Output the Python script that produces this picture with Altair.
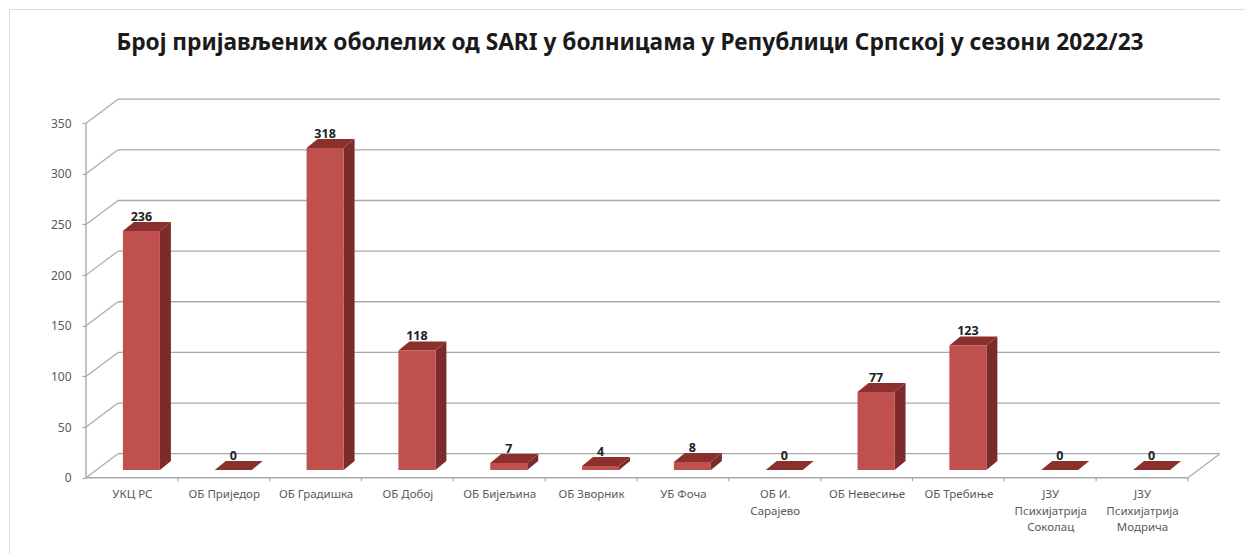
import json
import altair as alt
import pandas as pd

title = "Број пријављених оболелих од SARI у болницама у Републици Српској у сезони 2022/23"
categories = ["УКЦ РС", "ОБ Приједор", "ОБ Градишка", "ОБ Добој", "ОБ Бијељина", "ОБ Зворник",
              "УБ Фоча", "ОБ И.|Сарајево", "ОБ Невесиње", "ОБ Требиње",
              "ЈЗУ|Психијатрија|Соколац", "ЈЗУ|Психијатрија|Модрича"]
values = [236, 0, 318, 118, 7, 4, 8, 0, 77, 123, 0, 0]
y_ticks = [0, 50, 100, 150, 200, 250, 300, 350]

# frame and projection geometry (pixels on the page)
L, R, T, B = 9, 1245, 9, 554
X0, Y0 = 86, 477.7
SLOT = 91.83
PXV = 1.0129
n = len(categories)
WALL_DX, WALL_DY = 32 / SLOT, 24 / PXV
BAR_W, BAR_SHIFT = 37 / SLOT, 9.5 / SLOT
BAR_DX, BAR_DY = 11 / SLOT, 9 / PXV
BASE = 7.7 / PXV

GRID = "#a9a9a9"
TXT = "#5a5a5a"
FONT = "Noto Sans"

labels_js = json.dumps([c.split("|") for c in categories], ensure_ascii=False)

xs = alt.Scale(domain=[(L - X0) / SLOT, (R - X0) / SLOT], nice=False, zero=False)
ys = alt.Scale(domain=[(Y0 - B) / PXV, (Y0 - T) / PXV], nice=False, zero=False)
x_axis = alt.Axis(values=[i + 0.5 for i in range(n)], labelExpr=labels_js + "[floor(datum.value)]",
                  ticks=False, domain=False, grid=False, title=None, offset=-(B - Y0),
                  labelFont=FONT, labelFontSize=11.5, labelColor=TXT, labelPadding=11,
                  labelLineHeight=16.5, labelOverlap=False, labelBound=False, labelFlush=False,
                  labelAngle=0, labelBaseline="top")
y_axis = alt.Axis(values=y_ticks, format="d", tickSize=4, tickColor=GRID, tickWidth=1.2,
                  domain=False, grid=False, title=None, offset=-(X0 - L),
                  labelFont=FONT, labelFontSize=12, labelColor=TXT, labelPadding=11,
                  labelOverlap=False, labelBound=False, labelFlush=False)
X = alt.X("x:Q", scale=xs, axis=x_axis)
Y = alt.Y("y:Q", scale=ys, axis=y_axis)

# walls: back grid lines
grid = pd.DataFrame({"x": [WALL_DX] * len(y_ticks), "x2": [n + WALL_DX] * len(y_ticks),
                     "y": [v + WALL_DY for v in y_ticks]})
grid_l = alt.Chart(grid).mark_rule(color=GRID, strokeWidth=1.3).encode(X, alt.X2("x2:Q"), Y)

# side-wall diagonals plus the floor's right edge
diag_rows = []
for v in y_ticks:
    diag_rows += [{"k": v, "x": 0, "y": v}, {"k": v, "x": WALL_DX, "y": v + WALL_DY}]
diag_rows += [{"k": -1, "x": n, "y": 0}, {"k": -1, "x": n + WALL_DX, "y": WALL_DY}]
diag_l = alt.Chart(pd.DataFrame(diag_rows)).mark_line(color=GRID, strokeWidth=1.2).encode(
    X, Y, alt.Detail("k:N"))

# front axis lines and x ticks
front = pd.DataFrame({"x": [0], "x2": [n], "y": [0]})
front_l = alt.Chart(front).mark_rule(color=GRID, strokeWidth=1.4).encode(X, alt.X2("x2:Q"), Y)
vert = pd.DataFrame({"x": [0], "y": [0], "y2": [350]})
vert_l = alt.Chart(vert).mark_rule(color=GRID, strokeWidth=1.4).encode(X, Y, alt.Y2("y2:Q"))
xt = pd.DataFrame({"x": list(range(1, n + 1)), "y": [0] * n, "y2": [-3.5] * n})
xt_l = alt.Chart(xt).mark_rule(color=GRID, strokeWidth=1.2).encode(X, Y, alt.Y2("y2:Q"))

# bars
front_rows, side_rows, top_rows, label_rows = [], [], [], []
for i, v in enumerate(values):
    xl = i + 0.5 + BAR_SHIFT - BAR_W / 2
    xr = xl + BAR_W
    front_rows.append({"x": xl, "x2": xr, "y": BASE, "y2": BASE + v})
    side_rows += [{"i": i, "x": xr, "y": BASE, "y2": BASE + v},
                  {"i": i, "x": xr + BAR_DX, "y": BASE + BAR_DY, "y2": BASE + BAR_DY + v}]
    top_rows += [{"i": i, "x": xl, "x2": xr, "y": BASE + v},
                 {"i": i, "x": xl + BAR_DX, "x2": xr + BAR_DX, "y": BASE + v + BAR_DY}]
    label_rows.append({"x": (xl + xr) / 2, "y": BASE + v + BAR_DY, "t": str(v)})

side_l = alt.Chart(pd.DataFrame(side_rows)).mark_area(color="#7b2c2a", opacity=1).encode(
    X, Y, alt.Y2("y2:Q"), alt.Detail("i:N"))
top_l = alt.Chart(pd.DataFrame(top_rows)).mark_area(color="#8c302d", opacity=1, orient="horizontal").encode(
    X, alt.X2("x2:Q"), Y, alt.Detail("i:N"))
front_bars = alt.Chart(pd.DataFrame(front_rows)).mark_bar(color="#c0504d").encode(
    X, alt.X2("x2:Q"), Y, alt.Y2("y2:Q"))
text_l = alt.Chart(pd.DataFrame(label_rows)).mark_text(
    font=FONT, fontSize=12.5, fontWeight="bold", color="#222222", dy=-5, baseline="middle").encode(
    X, Y, alt.Text("t:N"))

chart = alt.layer(grid_l, diag_l, front_l, vert_l, xt_l, side_l, top_l, front_bars, text_l).properties(
    width=R - L, height=B - T, padding={"left": 1, "top": 1, "right": 0, "bottom": 0},
    autosize=alt.AutoSizeParams(type="none"),
    title=alt.TitleParams(title, anchor="middle", offset=-46, dx=3, font=FONT, fontSize=22.7,
                          fontWeight="bold", color="#1a1a1a"),
).configure_view(stroke="#8f8f8f", strokeWidth=2).configure(background="white")

chart.save("out.html", embed_options={"renderer": "svg", "actions": False})
